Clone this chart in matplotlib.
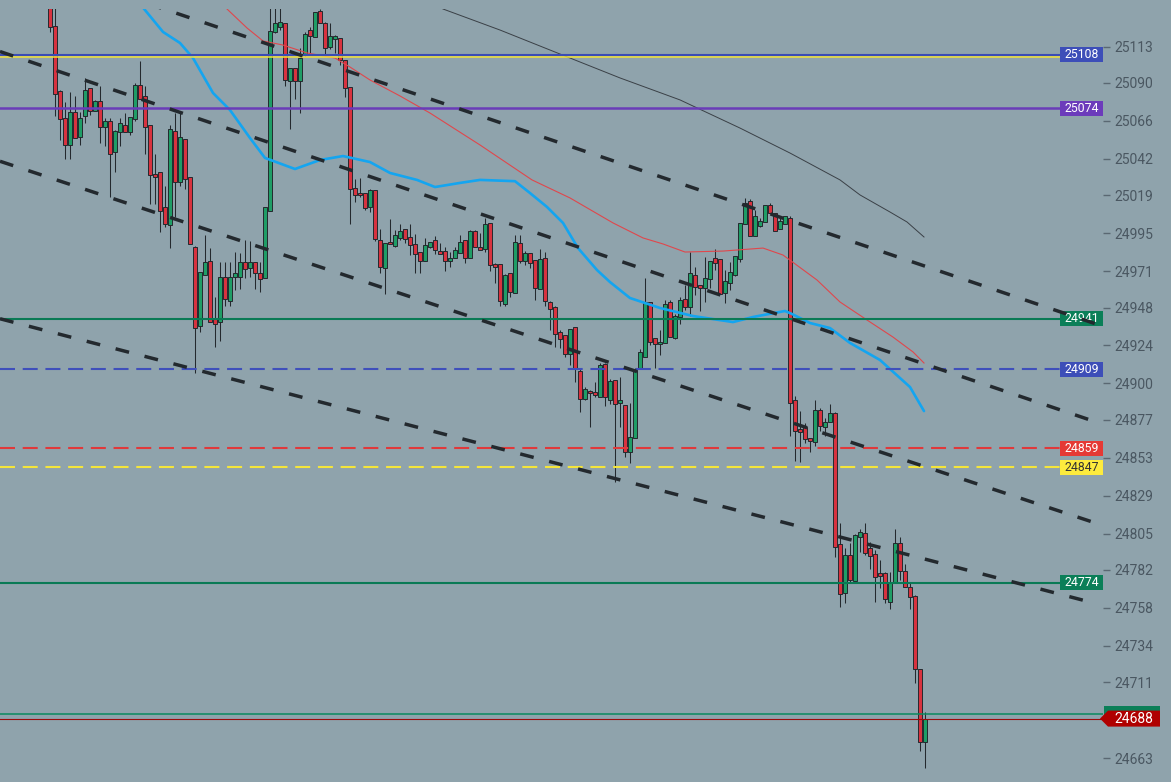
import matplotlib.pyplot as plt
import matplotlib.transforms as mtransforms
from matplotlib.patches import Rectangle, Polygon

plt.rcParams['font.family'] = ['Roboto', 'DejaVu Sans']

# candles, one every bar
opens = [25145, 25126, 25084.8, 25067.9, 25050.6, 25071.5, 25055.7, 25068.9, 25086.7, 25072.3,
         25078.6, 25062.4, 25066, 25046.6, 25058.8, 25063.2, 25058.8, 25067, 25088.5, 25081.6,
         25063.2, 25032.4, 25033.5, 25011.4, 25000, 25059.5, 25027.6, 25054.4, 25030.4, 24986.3,
         24936.5, 24968.8, 24977.4, 24941.2, 24939, 24967.3, 24952.3, 24967.5, 24967.5, 24976.6,
         24973, 24976.6, 24969.6, 24966.5, 25009.2, 25122.1, 25125.2, 25127.8, 25091.1, 25099.3,
         25091.5, 25107.7, 25123.5, 25118.9, 25135.5, 25127.8, 25113, 25117.6, 25118.3, 25104.5,
         25087.3, 25023.4, 25020.4, 25020.4, 25011.8, 25022.3, 24990.7, 24973.2, 24989.2, 24986.7,
         24991.8, 24997.5, 24992.6, 24988.4, 24983.3, 24977.6, 24986.5, 24990.5, 24983.7, 24983.7,
         24977.6, 24979.5, 24982.7, 24990.5, 24979.3, 24996.4, 24986.1, 24985.2, 25001.3, 24975.5,
         24975.3, 24950.4, 24969.6, 24957, 24988.8, 24977.6, 24982.3, 24977.9, 24959.5, 24979.1,
         24951.5, 24948.3, 24932.3, 24930.6, 24918.4, 24935.5, 24908, 24890.3, 24895.2, 24894.6,
         24891.6, 24912.3, 24889.5, 24902.1, 24887.4, 24886.3, 24856.6, 24865.3, 24909.5, 24916.5,
         24951.3, 24928.5, 24924.7, 24925.4, 24951.3, 24928.5, 24942.2, 24953.4, 24948.5, 24968.6,
         24962, 24960.5, 24965.8, 24979.1, 24978.7, 24957, 24963.7, 24968.8, 24978.5, 25000.6,
         25015.4, 24993.4, 24999.3, 25002.3, 25012.8, 25007.6, 24997.5, 25000.6, 25004.4, 24889.5,
         24871.2, 24872.6, 24865.3, 24863.1, 24883.2, 24872.2, 24875.4, 24881.5, 24798.2, 24767.2,
         24791.5, 24775.2, 24803.1, 24805.2, 24795.7, 24792.1, 24779.9, 24779.9, 24762, 24774.2,
         24798.9, 24781.2, 24771, 24765.7, 24719.2, 24673]
highs = [25148, 25140, 25085.5, 25078, 25084.3, 25081.6, 25071.7, 25093, 25087, 25079,
         25088.1, 25067.9, 25067.9, 25060.3, 25067.9, 25070.8, 25068.3, 25089.8, 25103.9, 25088.1,
         25063.2, 25045.1, 25033.5, 25024.9, 25063.6, 25071.2, 25071.2, 25054.4, 25030.4, 24986.9,
         24970.5, 24993.7, 24985.4, 24954.5, 24976.6, 24977, 24976.6, 24982.9, 24982.3, 24990.7,
         24990.3, 24976.6, 24976.6, 25011.8, 25145, 25145, 25145, 25127.8, 25099.3, 25099.3,
         25112, 25122.1, 25125.6, 25134.7, 25137, 25128.8, 25127.8, 25120.4, 25118.3, 25104.5,
         25087.3, 25029.3, 25029.7, 25020.4, 25023, 25022.3, 24997.5, 24988.6, 25003.8, 24997,
         25000.8, 24997.5, 25000.8, 24994.5, 24983.3, 24991.8, 24989.4, 24993.2, 24988.6, 24986.5,
         24983.3, 24986.5, 24993.9, 24990.5, 24997, 24997, 24994.9, 25004.4, 25001.3, 24976,
         24975.3, 24969, 24969.6, 24993.9, 24993.9, 24983.7, 24982.3, 24977.9, 24984.8, 24983.3,
         24951.9, 24949, 24933.8, 24930.6, 24934.2, 24935.9, 24909.5, 24897.9, 24895.8, 24901.1,
         24913.1, 24913.1, 24902.6, 24902.1, 24904.2, 24886.3, 24887.6, 24910, 24922, 24966.5,
         24951.3, 24928.5, 24933.8, 24952.8, 24952.8, 24943.9, 24954.8, 24962.3, 24983.3, 24973.4,
         24962, 24980.1, 24977.4, 24985, 24978.7, 24971.7, 24977, 24980.6, 25001.5, 25017.1,
         25016.8, 25009.7, 25004.4, 25012.8, 25013.9, 25007.6, 25004.4, 25005.9, 25005.9, 24892,
         24882.5, 24875.1, 24865.3, 24889.5, 24884.3, 24877.9, 24887, 24881.9, 24811.5, 24795.7,
         24798.9, 24804.7, 24807.9, 24811.5, 24799.5, 24794.6, 24788.3, 24780.5, 24780.5, 24807.9,
         24802.6, 24785.6, 24773.6, 24766.2, 24719.2, 24692]
lows = [25122.5, 25069.3, 25054, 25041.7, 25041.7, 25055, 25051, 25064.5, 25069.8, 25072,
        25052.2, 25050.3, 25018.1, 25033.7, 25050.3, 25058.8, 25057.1, 25066.2, 25079.7, 25045.3,
        25013.3, 25013.3, 24995.6, 24999.1, 24985.8, 25005.4, 25025.1, 25023.2, 24988.4, 24906.4,
        24932.3, 24968.8, 24939, 24923.2, 24927, 24949, 24949, 24959.1, 24959.5, 24966.5,
        24967.5, 24959.5, 24958, 24966.5, 25009.2, 25121.4, 25123.5, 25088.3, 25061.1, 25080.1,
        25071.2, 25107.1, 25107.7, 25118.9, 25127.8, 25107.7, 25111.5, 25109.2, 25101.6, 25081.3,
        25000.6, 25014.9, 25017.7, 25009.7, 25008.6, 24990.3, 24970, 24956.4, 24988, 24986.5,
        24990.9, 24988.6, 24981.4, 24970, 24970, 24977.6, 24985.5, 24981.8, 24981.6, 24971.3,
        24973.8, 24979.1, 24982.7, 24976.3, 24979.3, 24986.5, 24984.6, 24983.3, 24971.3, 24963.3,
        24949, 24949, 24954.8, 24957, 24976, 24974.9, 24973.2, 24952.8, 24959.5, 24949,
        24933.8, 24923.2, 24922.2, 24916.5, 24911.6, 24901.1, 24882.1, 24889.5, 24872.6, 24891.6,
        24891.2, 24885.7, 24887, 24837.6, 24872.6, 24853.6, 24849.7, 24865.3, 24909, 24916.5,
        24924.1, 24909.9, 24918, 24925.4, 24929.5, 24928, 24937.6, 24946.4, 24942.6, 24955.9,
        24946, 24951.5, 24960.3, 24971.7, 24956.5, 24951, 24959.1, 24968, 24977, 25000.6,
        24993.4, 24993.4, 24999.1, 25002.3, 25007.6, 24996.6, 24997.5, 25000.6, 24866.7, 24851.1,
        24850.3, 24862.1, 24856.8, 24860.6, 24870.1, 24866.9, 24875.4, 24790, 24758.8, 24760.9,
        24773.6, 24775, 24793.6, 24791.5, 24782.6, 24762, 24770.8, 24760.9, 24757.5, 24774.2,
        24775.7, 24771.4, 24757.3, 24710.7, 24667.7, 24656.5]
closes = [25125.2, 25082.9, 25067, 25050.6, 25071.5, 25055, 25067.9, 25085.6, 25072.1, 25078.6,
          25062.4, 25066, 25045.3, 25059.6, 25064.7, 25058.8, 25068.3, 25088.5, 25079.7, 25062,
          25031.6, 25030.7, 25008.9, 25000.6, 25060.7, 25027.6, 25055.7, 25029.5, 24988.4, 24935.2,
          24970.5, 24976.8, 24939, 24937.6, 24967.3, 24953.4, 24967.1, 24969.6, 24976.6, 24972.5,
          24976.6, 24969.6, 24965.8, 25011.4, 25123.1, 25127.8, 25128.4, 25091.9, 25099.3, 25091.1,
          25105.6, 25121, 25119.9, 25134.7, 25127.8, 25112, 25119.7, 25119.7, 25104.5, 25086.7,
          25022.8, 25019.2, 25019, 25010.8, 25022.3, 24991.5, 24973.4, 24988.6, 24988, 24993.7,
          24996.4, 24991.5, 24987.3, 24981.8, 24977.6, 24987.3, 24989.4, 24984.6, 24981.8, 24977.6,
          24979.3, 24984.4, 24989.4, 24979.5, 24996.6, 24986.5, 24984.6, 25000.8, 24974.7, 24973.8,
          24951.9, 24968.6, 24957.6, 24989.4, 24977.6, 24982.3, 24976, 24960.5, 24978.7, 24951.9,
          24947.3, 24931.4, 24928.3, 24918.4, 24934.2, 24908.9, 24890.3, 24896.3, 24893.7, 24892.5,
          24911.6, 24891.6, 24901.5, 24886.8, 24889.5, 24856.4, 24866.1, 24908.5, 24920, 24951.3,
          24926.4, 24924.7, 24926, 24950, 24929.5, 24942.6, 24952.8, 24948.5, 24969.6, 24961.2,
          24960.5, 24966.5, 24977.4, 24976.3, 24956.5, 24964.8, 24970.3, 24980.6, 25001.3, 25013.9,
          24993.4, 25005.9, 25002.7, 25012.8, 25007.6, 24996.6, 25002.7, 25005.9, 24887.4, 24870.1,
          24869.5, 24864.6, 24863.4, 24883.2, 24873.2, 24875.4, 24881.3, 24796.3, 24766.6, 24791.5,
          24775.7, 24804.1, 24805.8, 24792.9, 24791, 24777.4, 24778.4, 24763.4, 24774.6, 24798.9,
          24781.3, 24771.4, 24765.1, 24719.2, 24673, 24688]

# moving averages, sampled at bar positions
ma_blue_x = [18, 22.6, 26, 28.6, 32.6, 36, 40, 43, 49, 54, 58.6, 64, 68, 73.4, 77, 82, 86, 93, 96,
             99.4, 102.6, 105.6, 109.4, 112, 116, 122, 128.6, 136.6, 140.6, 147, 148.4, 152, 156,
             160, 166, 172, 174.8]
ma_blue_y = [25140, 25122.3, 25115.3, 25105.8, 25083.7, 25072.9, 25055.2, 25042.6, 25035.6, 25041.3,
             25043.8, 25040, 25033.1, 25028.7, 25024.2, 25026.8, 25028.7, 25027.9, 25020.4, 25011.6,
             25001.5, 24985.6, 24971.7, 24964.1, 24954, 24947.7, 24942.6, 24938.8, 24942, 24945.8,
             24943.9, 24938.2, 24935, 24925.6, 24914.8, 24897.7, 24882.5]
ma_red_x = [34.4, 35.4, 39.4, 42.6, 46.6, 51.4, 57, 60, 64, 70, 76, 86, 96.4, 104, 112.6, 118.6,
            122.6, 127, 134.6, 142.6, 146.6, 153.4, 158, 163.4, 168.6, 172.6, 174.8]
ma_red_y = [25140.5, 25136.8, 25124.8, 25116.6, 25114, 25109, 25105.8, 25100.1, 25091.9, 25081.8,
            25071, 25050.8, 25028.7, 25017.3, 25001.5, 24992, 24988.2, 24983.1, 24983.7, 24985.6,
            24981.2, 24965.4, 24951.5, 24940.1, 24929.3, 24919.9, 24912.9]
ma_dark_x = [77, 78.6, 90, 104, 114, 126, 138, 148, 158, 162, 168, 171.4, 174.8]
ma_dark_y = [25140, 25136.8, 25123.5, 25105.8, 25093.2, 25079.3, 25061.5, 25045.7, 25028.7,
             25019.2, 25008.4, 25002.1, 24992.6]

# dashed channel lines: (bar, price) start and end
trend_start = [(19.6, 25140.2), (-10, 25109.9), (-10, 25040.5), (-10, 24940.9)]
trend_end = [(209.4, 24937.4), (209.4, 24875.4), (209.4, 24811.4), (209.4, 24760.6)]

# horizontal levels
level_vals = [25108, 25106.5, 25074, 24941, 24909, 24859, 24847, 24774, 24691, 24688]
level_colors = ['#3b4cb4', '#f2e13a', '#6a3cb8', '#0a7a55', '#3f4fbb', '#e0393b', '#f4e53a',
                '#0a7a55', '#0b8a5e', '#9b0a0a']
level_styles = ['solid', 'solid', 'solid', 'solid', 'dashed', 'dashed', 'dashed', 'solid', 'solid', 'solid']
level_widths = [1.5, 1.1, 1.8, 1.5, 1.5, 1.5, 1.5, 1.5, 1.1, 0.8]

box_vals = [25108, 25074, 24941, 24909, 24859, 24847, 24774]
box_colors = ['#3d4eb8', '#6c3bbb', '#0b7f58', '#3d4eb8', '#e53935', '#fdeb3d', '#0b7f58']
box_text_colors = ['white', 'white', 'white', 'white', 'white', '#333333', 'white']

last_price = 24688
last_hidden = 24691

tick_vals = [25113, 25090, 25066, 25042, 25019, 24995, 24971, 24948, 24924, 24900,
             24877, 24853, 24829, 24805, 24782, 24758, 24734, 24711, 24663]

bg = '#8fa3ac'
up_col = '#1f9d66'
down_col = '#d8323f'
edge_col = '#24292e'

fig = plt.figure(figsize=(11.71, 7.82), dpi=100)
fig.patch.set_facecolor(bg)
ax = fig.add_axes([0, 0, 1103 / 1171, 773 / 782])
ax.set_facecolor(bg)
ax.set_xlim(-10, 210.6)
ax.set_ylim(24647.9, 25136.8)

idx = list(range(len(opens)))
ax.vlines(idx, lows, highs, color=edge_col, lw=0.75, zorder=2)
for i in idx:
    o, c = opens[i], closes[i]
    bottom = min(o, c)
    h = max(abs(c - o), 1.3)
    ax.bar(i, h, bottom=bottom, width=0.62, color=up_col if c >= o else down_col,
           edgecolor=edge_col, linewidth=0.7, zorder=3)

ax.plot(ma_dark_x, ma_dark_y, color='#3a4046', lw=0.7, zorder=4)
ax.plot(ma_red_x, ma_red_y, color='#e0474c', lw=0.8, zorder=4)
ax.plot(ma_blue_x, ma_blue_y, color='#14a5f0', lw=1.9, zorder=4, solid_capstyle='round')

for v, col, st, w in zip(level_vals, level_colors, level_styles, level_widths):
    if st == 'dashed':
        ax.axhline(v, color=col, lw=w, linestyle=(0, (7.2, 3.7)), zorder=5)
    else:
        ax.axhline(v, color=col, lw=w, zorder=5)

blend = mtransforms.blended_transform_factory(ax.transAxes, ax.transData)
box_h = 15 * 0.6325
x0 = 1060 / 1103
for v, col, tc in zip(box_vals, box_colors, box_text_colors):
    ax.add_patch(Rectangle((x0, v - box_h / 2), 1 - x0, box_h, transform=blend,
                           facecolor=col, edgecolor='none', zorder=6, clip_on=False))
    ax.text((1 + x0) / 2, v, str(v), transform=blend, ha='center', va='center',
            color=tc, fontsize=8.8, zorder=7)

for (sx, sy), (ex, ey) in zip(trend_start, trend_end):
    ax.plot([sx, ex], [sy, ey], color='#23292e', lw=2.5, linestyle=(0, (4.0, 4.6)),
            zorder=8, solid_capstyle='butt')

# last price tags on the axis
ax.add_patch(Rectangle((1104 / 1103, last_hidden - box_h / 2), 56 / 1103, box_h, transform=blend,
                       facecolor='#0b7f58', edgecolor='none', zorder=9, clip_on=False))
hh = 8 * 0.6325
tip = 1100 / 1103
left = 1108 / 1103
right = 1160 / 1103
ax.add_patch(Polygon([(tip, last_price), (left, last_price + hh), (right, last_price + hh),
                      (right, last_price - hh), (left, last_price - hh)], closed=True,
                     transform=blend, facecolor='#b00000', edgecolor='none', zorder=10,
                     clip_on=False))
ax.text((left + right) / 2, last_price, str(last_price), transform=blend, ha='center',
        va='center', color='white', fontsize=10, zorder=11, clip_on=False)

ax.set_xticks([])
ax.yaxis.tick_right()
ax.set_yticks(tick_vals)
ax.set_yticklabels([str(t) for t in tick_vals])
ax.tick_params(axis='y', length=5, width=1, color='#5a6872', pad=3, labelsize=10,
               labelcolor='#4a5761')
for s in ax.spines.values():
    s.set_visible(False)

fig.savefig('out.png', dpi=100, facecolor=bg)
